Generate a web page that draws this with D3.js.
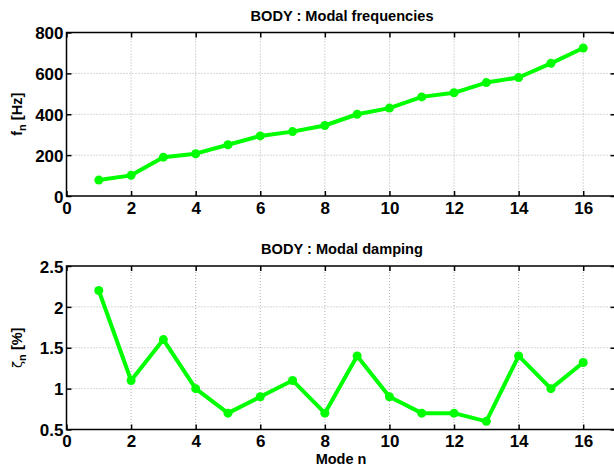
<!DOCTYPE html>
<html>
<head>
<meta charset="utf-8">
<script src="https://cdn.jsdelivr.net/npm/d3@7"></script>
<style>
  html, body { margin: 0; padding: 0; background: #fff; }
  svg { display: block; font-family: "Liberation Sans", Arial, Helvetica, sans-serif; }
  .tick text { font-weight: bold; fill: #000; }
</style>
</head>
<body>
<svg id="chart" width="614" height="469"></svg>
<script>
// Mode numbers
const modes = [1, 2, 3, 4, 5, 6, 7, 8, 9, 10, 11, 12, 13, 14, 15, 16];
// Natural frequencies f_n [Hz]
const frequencies = [78, 101, 190, 207, 251, 294, 315, 345, 400, 430, 485, 505, 555, 580, 649, 724];
// Modal damping ratios zeta_n [%]
const damping = [2.2, 1.1, 1.6, 1.0, 0.7, 0.9, 1.1, 0.7, 1.4, 0.9, 0.7, 0.7, 0.6, 1.4, 1.0, 1.32];
// Tick labels
const xTicks = [0, 2, 4, 6, 8, 10, 12, 14, 16];
const freqTicks = [0, 200, 400, 600, 800];
const dampTicks = [0.5, 1, 1.5, 2, 2.5];

const FONT = '"Liberation Sans", Arial, Helvetica, sans-serif';
const svg = d3.select("#chart");
const left = 66.5, right = 615.5;
const x = d3.scaleLinear().domain([0, 17]).range([left, right]);

function panel(opts) {
  const { top, bottom, domain, ticks, tickFmt, values, title, ylabel } = opts;
  const y = d3.scaleLinear().domain(domain).range([bottom, top]);
  const g = svg.append("g");

  // dotted grid
  g.append("g").selectAll("line").data(xTicks.filter(t => t > 0)).join("line")
    .attr("x1", d => x(d)).attr("x2", d => x(d)).attr("y1", top).attr("y2", bottom)
    .attr("stroke", "#b0b0b0").attr("stroke-width", 1).attr("stroke-dasharray", "1,2");
  g.append("g").selectAll("line").data(ticks.slice(1, -1)).join("line")
    .attr("x1", left).attr("x2", right).attr("y1", d => y(d)).attr("y2", d => y(d))
    .attr("stroke", "#b0b0b0").attr("stroke-width", 1).attr("stroke-dasharray", "1,2");

  // axes with inward ticks on all four sides
  const ax = g.append("g").attr("transform", `translate(0,${bottom})`)
    .call(d3.axisBottom(x).tickValues(xTicks).tickSizeInner(-5).tickSizeOuter(0).tickPadding(8));
  const axT = g.append("g").attr("transform", `translate(0,${top})`)
    .call(d3.axisTop(x).tickValues(xTicks).tickSizeInner(-5).tickSizeOuter(0).tickFormat(""));
  const ay = g.append("g").attr("transform", `translate(${left},0)`)
    .call(d3.axisLeft(y).tickValues(ticks).tickFormat(tickFmt).tickSizeInner(-5).tickSizeOuter(0).tickPadding(3));
  const ayR = g.append("g").attr("transform", `translate(${right},0)`)
    .call(d3.axisRight(y).tickValues(ticks).tickSizeInner(-5).tickSizeOuter(0).tickFormat(""));
  [ax, axT, ay, ayR].forEach(a => {
    a.attr("font-family", FONT).attr("font-size", 17);
    a.select(".domain").remove();
    a.selectAll(".tick line").attr("stroke", "#000").attr("stroke-width", 1.5);
  });
  ax.selectAll(".tick text").attr("dy", "0.58em");
  ay.selectAll(".tick text").attr("dy", "0.36em");

  // frame
  g.append("rect").attr("x", left).attr("y", top).attr("width", right - left).attr("height", bottom - top)
    .attr("fill", "none").attr("stroke", "#000").attr("stroke-width", 1.5);

  // series
  const line = d3.line().x((d, i) => x(modes[i])).y(d => y(d));
  g.append("path").datum(values).attr("d", line)
    .attr("fill", "none").attr("stroke", "#00ff00").attr("stroke-width", 4).attr("stroke-linejoin", "round");
  g.append("g").selectAll("circle").data(values).join("circle")
    .attr("cx", (d, i) => x(modes[i])).attr("cy", d => y(d)).attr("r", 4.5).attr("fill", "#00ff00");

  // title
  g.append("text").attr("x", (left + right) / 2 + 1).attr("y", top - 12)
    .attr("text-anchor", "middle").attr("font-weight", "bold").attr("font-size", "14.6px").text(title);

  // y label
  const yl = g.append("text")
    .attr("transform", `translate(22,${(top + bottom) / 2}) rotate(-90)`)
    .attr("text-anchor", "middle").attr("font-weight", "bold").attr("font-size", "14.5px");
  ylabel(yl);
  return y;
}

panel({
  top: 32.5, bottom: 196, domain: [0, 800], ticks: freqTicks, tickFmt: d3.format("d"),
  values: frequencies, title: "BODY : Modal frequencies",
  ylabel: t => {
    t.append("tspan").text("f");
    t.append("tspan").attr("font-size", "11px").attr("dy", "4").text("n");
    t.append("tspan").attr("dy", "-4").text(" [Hz]");
  }
});

panel({
  top: 266, bottom: 429.5, domain: [0.5, 2.5], ticks: dampTicks, tickFmt: d => String(d),
  values: damping, title: "BODY : Modal damping",
  ylabel: t => {
    t.append("tspan").attr("font-weight", "normal").attr("font-family", "DejaVu Sans").attr("font-size", "13px").text("ζ");
    t.append("tspan").attr("font-size", "11px").attr("dy", "4").text("n");
    t.append("tspan").attr("dy", "-4").text(" [%]");
  }
});

svg.append("text").attr("x", (left + right) / 2).attr("y", 464)
  .attr("text-anchor", "middle").attr("font-weight", "bold").attr("font-size", "14.5px").text("Mode n");
</script>
</body>
</html>
